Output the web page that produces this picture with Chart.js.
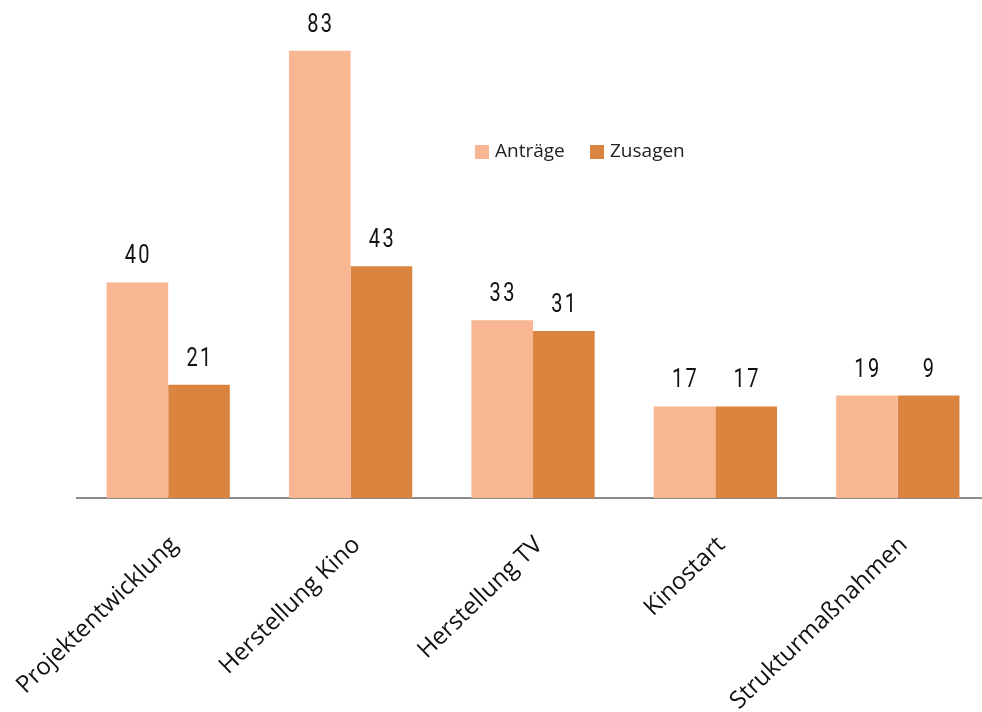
<!DOCTYPE html>
<html>
<head>
<meta charset="utf-8">
<script src="https://cdn.jsdelivr.net/npm/chart.js@4/dist/chart.umd.min.js"></script>
<style>
  html, body { margin: 0; padding: 0; background: #fff; overflow: hidden; width: 982px; height: 712px; }
  #wrap { width: 989px; height: 712px; position: relative; }
</style>
</head>
<body>
<div id="wrap"><canvas id="c"></canvas></div>
<script>
const categories = ["Projektentwicklung", "Herstellung Kino", "Herstellung TV", "Kinostart", "Strukturmaßnahmen"];
const seriesNames = ["Anträge", "Zusagen"];
const antraege = [40, 83, 33, 17, 19];
// bar heights as drawn in the reference (last bar is drawn at the height of 19)
const zusagenBars = [21, 43, 31, 17, 19];
// values printed above the Zusagen bars
const zusagenLabels = ["21", "43", "31", "17", "9"];
const antraegeLabels = antraege.map(String);
const colors = ["#F8B692", "#DB843F"];

const valueLabels = {
  id: "valueLabels",
  afterDatasetsDraw(chart) {
    const ctx = chart.ctx;
    const labelSets = [antraegeLabels, zusagenLabels];
    const sx = 0.8;
    chart.data.datasets.forEach((ds, di) => {
      chart.getDatasetMeta(di).data.forEach((bar, i) => {
        ctx.save();
        ctx.font = "400 25px Roboto";
        ctx.letterSpacing = "3px";
        ctx.fillStyle = "#111";
        ctx.textAlign = "center";
        ctx.textBaseline = "alphabetic";
        ctx.translate(bar.x + 1, bar.y - 19);
        ctx.scale(sx, 1);
        ctx.fillText(labelSets[di][i], 0, 0);
        ctx.restore();
      });
    });
  }
};

const customLegend = {
  id: "customLegend",
  afterDraw(chart) {
    const ctx = chart.ctx;
    const items = [{ x: 475, text: seriesNames[0], color: colors[0] },
                   { x: 590, text: seriesNames[1], color: colors[1] }];
    ctx.save();
    ctx.font = "19px 'Open Sans'";
    ctx.textBaseline = "middle";
    ctx.textAlign = "left";
    items.forEach(it => {
      ctx.fillStyle = it.color;
      ctx.fillRect(it.x, 145, 14, 14);
      ctx.fillStyle = "#222";
      ctx.fillText(it.text, it.x + 20, 152);
    });
    ctx.restore();
  }
};

new Chart(document.getElementById("c"), {
  type: "bar",
  data: {
    labels: categories,
    datasets: [
      { label: seriesNames[0], data: antraege, backgroundColor: colors[0] },
      { label: seriesNames[1], data: zusagenBars, backgroundColor: colors[1] }
    ]
  },
  options: {
    responsive: true,
    maintainAspectRatio: false,
    animation: false,
    layout: { padding: { left: 77, right: 0, top: 13, bottom: 0 } },
    datasets: { bar: { barPercentage: 1, categoryPercentage: 0.676, borderWidth: 0 } },
    plugins: { legend: { display: false }, tooltip: { enabled: false } },
    scales: {
      y: { display: false, min: 0, max: 90 },
      x: {
        grid: { display: false, drawTicks: false },
        border: { display: true, color: "#8a8a8a", width: 2 },
        ticks: {
          maxRotation: 44, minRotation: 44, padding: 33, labelOffset: 6,
          color: "#111",
          font: { family: "'Open Sans'", size: 24 }
        },
        afterFit(scale) {
          scale.height = 214;
          scale.paddingLeft = 0;
          scale.paddingRight = 0;
        }
      }
    }
  },
  plugins: [valueLabels, customLegend]
});
</script>
</body>
</html>
